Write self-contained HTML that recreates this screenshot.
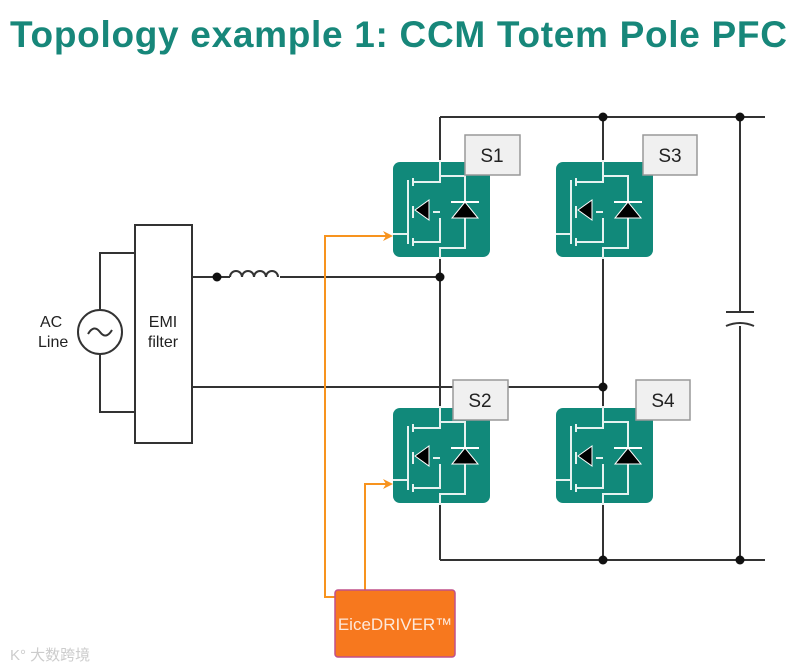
<!DOCTYPE html>
<html><head><meta charset="utf-8"><style>
body{margin:0;width:808px;height:670px;background:#fff;overflow:hidden;position:relative;font-family:"Liberation Sans",sans-serif}
.t{position:absolute;left:10px;top:14px;font-size:37px;font-weight:bold;color:#17877a;letter-spacing:0.7px;white-space:nowrap}
</style></head><body>
<div class="t">Topology example 1: CCM Totem Pole PFC</div>
<svg width="808" height="670" style="position:absolute;left:0;top:0" font-family="Liberation Sans, sans-serif">
<defs>
<g id="m">
<rect x="0" y="0" width="97" height="95" rx="7" fill="#11897a"/>
<g stroke="#e6f2f0" stroke-width="2" fill="none">
<path d="M47 -2 V14 H72 V86 H47 V97"/>
<path d="M47 14 V20 H20"/><path d="M47 56 V80 H20"/>
<path d="M47 50 H40"/>
<path d="M15 18 V82"/><path d="M20 16 V24 M20 44 V56 M20 76 V84"/>
<path d="M0 72 H15"/>
</g>
<polygon points="22,48 36,38 36,58" fill="#000" stroke="#fff" stroke-width="1"/>
<polygon points="72,40 59,56 85,56" fill="#000" stroke="#fff" stroke-width="1"/>
<path d="M58 40 H86" stroke="#fff" stroke-width="2"/>
</g>
</defs>
<g stroke="#333" stroke-width="2" fill="none">
<path d="M440 117 H765 M440 560 H765 M440 117 V560 M603 117 V560"/>
<path d="M740 117 V312 M740 326 V560 M726 312 H754"/>
<path d="M726 326 Q740 320 754 326"/>
<path d="M192 277 H230 M280 277 H440 M192 387 H603"/>
<path d="M230 277 a6 6 0 0 1 12 0 a6 6 0 0 1 12 0 a6 6 0 0 1 12 0 a6 6 0 0 1 12 0" />
<path d="M135 253 H100 V310 M100 354 V412 H135"/>
</g>
<g fill="#111">
<circle cx="603" cy="117" r="4.5"/><circle cx="740" cy="117" r="4.5"/>
<circle cx="440" cy="277" r="4.5"/><circle cx="217" cy="277" r="4.5"/>
<circle cx="603" cy="387" r="4.5"/><circle cx="603" cy="560" r="4.5"/><circle cx="740" cy="560" r="4.5"/>
</g>
<rect x="135" y="225" width="57" height="218" fill="#fff" stroke="#333" stroke-width="2"/>
<text x="163" y="327" font-size="16" text-anchor="middle" fill="#222">EMI</text>
<text x="163" y="347" font-size="16" text-anchor="middle" fill="#222">filter</text>
<circle cx="100" cy="332" r="22" fill="#fff" stroke="#333" stroke-width="2"/>
<path d="M88 334 q6 -10 12 -2 q6 8 12 -2" stroke="#333" stroke-width="2" fill="none"/>
<text x="40" y="327" font-size="16" fill="#222">AC</text>
<text x="38" y="347" font-size="16" fill="#222">Line</text>
<use href="#m" x="393" y="162"/><use href="#m" x="556" y="162"/>
<use href="#m" x="393" y="408"/><use href="#m" x="556" y="408"/>
<g fill="#f0f0f0" stroke="#999" stroke-width="1.5">
<rect x="465" y="135" width="55" height="40"/><rect x="643" y="135" width="54" height="40"/>
<rect x="453" y="380" width="55" height="40"/><rect x="636" y="380" width="54" height="40"/>
</g>
<g font-size="19" fill="#222" text-anchor="middle">
<text x="492" y="162">S1</text><text x="670" y="162">S3</text>
<text x="480" y="407">S2</text><text x="663" y="407">S4</text>
</g>
<g stroke="#f7931e" stroke-width="2" fill="none">
<path d="M335 597 H325 V236 H388"/><path d="M365 590 V484 H388"/>
</g>
<polygon points="393,236 383,231 386,236 383,241" fill="#f7931e"/>
<polygon points="393,484 383,479 386,484 383,489" fill="#f7931e"/>
<rect x="335" y="590" width="120" height="67" rx="3" fill="#f7781e" stroke="#c0508a" stroke-width="1.5"/>
<text x="395" y="630" font-size="17" fill="#fde9dc" text-anchor="middle">EiceDRIVER™</text>
<text x="10" y="660" font-size="15" fill="#ccc">K° 大数跨境</text>
</svg>
</body></html>
